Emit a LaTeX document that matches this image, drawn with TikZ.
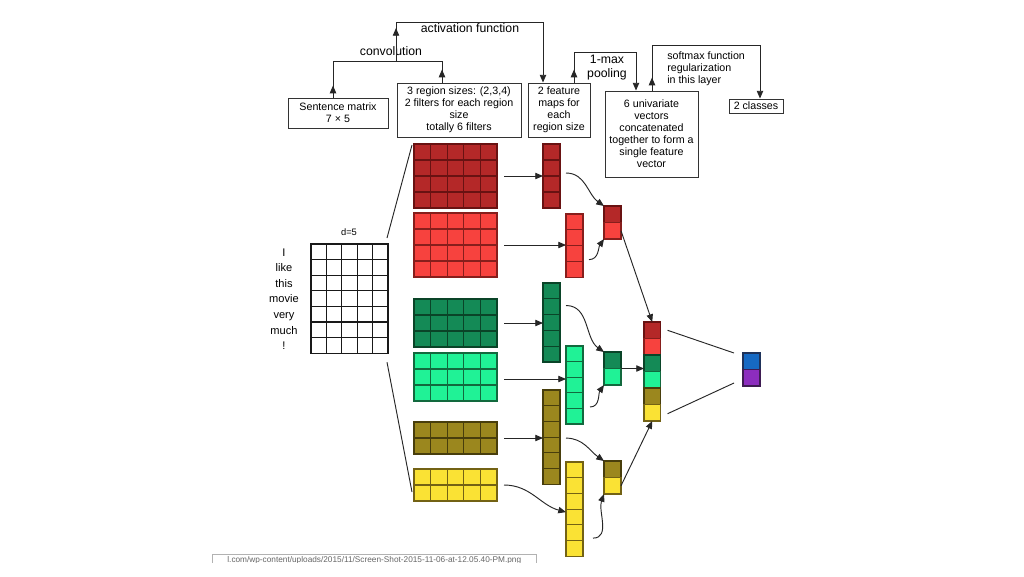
\documentclass[tikz,border=0pt]{standalone}
\usepackage{fontspec}
\setmainfont{Liberation Sans}
\usetikzlibrary{arrows.meta,calc}
\definecolor{dred}{RGB}{180,40,40}
\definecolor{dredl}{RGB}{105,18,18}
\definecolor{lred}{RGB}{247,66,62}
\definecolor{lredl}{RGB}{135,30,28}
\definecolor{dgrn}{RGB}{20,138,86}
\definecolor{dgrnl}{RGB}{10,68,40}
\definecolor{lgrn}{RGB}{32,242,150}
\definecolor{lgrnl}{RGB}{18,105,62}
\definecolor{oliv}{RGB}{155,135,30}
\definecolor{olivl}{RGB}{72,62,12}
\definecolor{yell}{RGB}{250,226,52}
\definecolor{yelll}{RGB}{115,98,20}
\definecolor{blu}{RGB}{22,105,195}
\definecolor{blul}{RGB}{30,50,90}
\definecolor{purp}{RGB}{140,45,190}
\definecolor{purpl}{RGB}{62,28,82}
\tikzset{
  arr/.style={-{Triangle[length=5.8pt,width=4.8pt]}, line width=0.7pt, draw=black!85},
  conn/.style={line width=0.7pt, draw=black!85},
  tbox/.style={draw=black!80, line width=0.7pt, align=center, font=\fontsize{8}{9}\selectfont, inner sep=0pt},
  lbl/.style={font=\fontsize{9.2}{10.5}\selectfont, inner sep=0pt},
}
% name, x, y, cols, rows, cell w, cell h, fill, line
\newcommand{\mygrid}[9]{%
  \node[draw=#9, fill=#8, line width=0.9pt, minimum width={#4*#6*0.75pt}, minimum height={#5*#7*0.75pt}, anchor=north west, inner sep=0pt, outer sep=0pt] (#1) at (#2,#3) {};
  \ifnum#4>1\relax
    \foreach \k in {2,...,#4} {\pgfmathsetmacro\myf{(\k-1)/#4}
      \draw[draw=#9, line width=0.9pt] ($(#1.north west)!\myf!(#1.north east)$) -- ($(#1.south west)!\myf!(#1.south east)$);}
  \fi
  \ifnum#5>1\relax
    \foreach \k in {2,...,#5} {\pgfmathsetmacro\myf{(\k-1)/#5}
      \draw[draw=#9, line width=0.9pt] ($(#1.north west)!\myf!(#1.south west)$) -- ($(#1.north east)!\myf!(#1.south east)$);}
  \fi
}
\begin{document}
\begin{tikzpicture}[x=0.75pt,y=-0.75pt]
\useasboundingbox (0,0) rectangle (1024,576);
\fill[white] (0,0) rectangle (1024,576);

% top boxes
\node[tbox, minimum width=75pt, minimum height=22.5pt] (sm) at (338,113) {Sentence matrix\\7 × 5};
\node[tbox, minimum width=93pt, minimum height=40.5pt] (rs) at (459,110) {3 region sizes: (2,3,4)\\2 filters for each region\\size\\totally 6 filters};
\node[tbox, minimum width=46.5pt, minimum height=40.5pt] (fm) at (559,110) {2 feature\\maps for\\each\\region size};
\node[tbox, minimum width=69.75pt, minimum height=64.5pt] (uv) at (651.5,134) {6 univariate\\vectors\\concatenated\\together to form a\\single feature\\vector};
\node[tbox, minimum width=40.5pt, minimum height=10.5pt] (cl) at (756,106) {2 classes};

% convolution bracket
\coordinate (cvL) at (333,61);
\coordinate (cvR) at (442,61);
\draw[conn] (sm.north -| cvL) -- (cvL) -- (cvR) -- (cvR |- rs.north);
\draw[arr] (sm.north -| cvL) -- ++(0,-12);
\draw[arr] (rs.north -| cvR) -- ++(0,-13);
\node[lbl] (lconv) at (391,51) {convolution};

% activation bracket
\coordinate (acL) at (396,61);
\coordinate (acT) at (396,22);
\coordinate (acR) at (543,22);
\draw[conn] (acL) -- (acT) -- (acR);
\draw[arr] (acL) -- ++(0,-33);
\draw[arr] (acR) -- (acR |- fm.north);
\node[lbl] (lact) at (470,28) {activation function};

% pooling bracket
\coordinate (plL) at (574,52);
\coordinate (plR) at (636,52);
\draw[conn] (fm.north -| plL) -- (plL) -- (plR);
\draw[arr] (fm.north -| plL) -- ++(0,-13);
\draw[arr] (plR) -- (plR |- uv.north);
\node[lbl, align=center] (lpool) at (607,67.5) {1-max\\pooling};

% softmax bracket
\coordinate (smL) at (652,45);
\coordinate (smR) at (760,45);
\draw[conn] (uv.north -| smL) -- (smL) -- (smR);
\draw[arr] (uv.north -| smL) -- ++(0,-13);
\draw[arr] (smR) -- (smR |- cl.north);
\node[font=\fontsize{8}{9.2}\selectfont, align=left, anchor=north west, inner sep=0pt] (lsoft) at (667,51) {softmax function\\regularization\\in this layer};

% sentence
\node[font=\fontsize{8.3}{11.7}\selectfont, align=center, inner sep=0pt] (words) at (284,299) {I\\like\\this\\movie\\very\\much\\!};
\node[font=\fontsize{7}{8}\selectfont, inner sep=0pt] (dlab) at (349,232) {d=5};
\mygrid{mat}{311}{244}{5}{7}{15.4}{15.6}{white}{black!90}

% filters
\mygrid{fdr}{414}{144}{5}{4}{16.6}{16}{dred}{dredl}
\mygrid{flr}{414}{213}{5}{4}{16.6}{16}{lred}{lredl}
\mygrid{fdg}{414}{299}{5}{3}{16.6}{16}{dgrn}{dgrnl}
\mygrid{flg}{414}{353}{5}{3}{16.6}{16}{lgrn}{lgrnl}
\mygrid{fol}{414}{422}{5}{2}{16.6}{16}{oliv}{olivl}
\mygrid{fye}{414}{469}{5}{2}{16.6}{16}{yell}{yelll}

% feature maps
\mygrid{mdr}{543}{144}{1}{4}{17}{16}{dred}{dredl}
\mygrid{mlr}{566}{214}{1}{4}{17}{15.8}{lred}{lredl}
\mygrid{mdg}{543}{283}{1}{5}{17}{15.8}{dgrn}{dgrnl}
\mygrid{mlg}{566}{346}{1}{5}{17}{15.6}{lgrn}{lgrnl}
\mygrid{mol}{543}{390}{1}{6}{17}{15.7}{oliv}{olivl}
\mygrid{mye}{566}{462}{1}{6}{17}{15.7}{yell}{yelll}

% pooled
\mygrid{pr1}{604}{206}{1}{1}{17}{16.5}{dred}{dredl}
\mygrid{pr2}{604}{222.5}{1}{1}{17}{16.5}{lred}{lredl}
\mygrid{pg1}{604}{352}{1}{1}{17}{16.5}{dgrn}{dgrnl}
\mygrid{pg2}{604}{368.5}{1}{1}{17}{16.5}{lgrn}{lgrnl}
\mygrid{po1}{604}{461}{1}{1}{17}{16.5}{oliv}{olivl}
\mygrid{po2}{604}{477.5}{1}{1}{17}{16.5}{yell}{yelll}

% concatenated
\mygrid{c1}{644}{322}{1}{1}{16.5}{16.5}{dred}{dredl}
\mygrid{c2}{644}{338.5}{1}{1}{16.5}{16.5}{lred}{lredl}
\mygrid{c3}{644}{355}{1}{1}{16.5}{16.5}{dgrn}{dgrnl}
\mygrid{c4}{644}{371.5}{1}{1}{16.5}{16.5}{lgrn}{lgrnl}
\mygrid{c5}{644}{388}{1}{1}{16.5}{16.5}{oliv}{olivl}
\mygrid{c6}{644}{404.5}{1}{1}{16.5}{16.5}{yell}{yelll}

% final
\mygrid{f1}{743}{353}{1}{1}{17}{16.5}{blu}{blul}
\mygrid{f2}{743}{369.5}{1}{1}{17}{16.5}{purp}{purpl}

% matrix to filters
\draw[conn] ($(mat.north east)+(-1,-6)$) -- ($(fdr.north west)+(-2,1)$);
\draw[conn] ($(mat.south east)+(-1,9)$) -- ($(fye.south west)+(-2,-9)$);

% filters to maps
\draw[arr] ($(fdr.east)+(7,0)$) -- (mdr.west);
\draw[arr] ($(flr.east)+(7,0)$) -- (flr.east -| mlr.west);
\draw[arr] ($(fdg.east)+(7,0)$) -- (fdg.east -| mdg.west);
\draw[arr] ($(flg.east)+(7,2)$) -- ($(flg.east -| mlg.west)+(0,2)$);
\draw[arr] ($(fol.east)+(7,0)$) -- (fol.east -| mol.west);
\draw[arr] ($(fye.east)+(7,0)$) to[out=0,in=165] ($(mye.west)+(0,3)$);

% maps to pooled
\draw[arr] ($(mdr.east)+(6,-3)$) to[out=0,in=145] (pr1.north west);
\draw[arr] ($(mlr.east)+(6,14)$) to[out=0,in=235] (pr2.south west);
\draw[arr] ($(mdg.east)+(6,-17)$) to[out=0,in=145] (pg1.north west);
\draw[arr] ($(mlg.east)+(7,22)$) to[out=0,in=235] (pg2.south west);
\draw[arr] ($(mol.east)+(6,1)$) to[out=0,in=145] (po1.north west);
\draw[arr] ($(mye.east)+(10,29)$) to[out=0,in=250] (po2.south west);

% pooled to concatenated
\draw[arr] (pr2.east) -- (c1.north);
\draw[arr] (pg1.south east) -- (pg1.south east -| c3.west);
\draw[arr] (po2.east) -- (c6.south);

% concatenated to final
\draw[conn] ($(c1.east)+(7,0)$) -- ($(f1.north west)+(-9,0)$);
\draw[conn] ($(c6.east)+(7,1)$) -- ($(f2.south west)+(-9,-3)$);

% clipped file-name strip
\begin{scope}
\clip (0,0) rectangle (1024,562);
\node[draw=black!30, fill=white, anchor=north west, inner sep=1.5pt, text=black!60, font=\fontsize{6.2}{7}\selectfont, minimum width=243pt, align=left] (url) at (212,554) {l.com/wp-content/uploads/2015/11/Screen-Shot-2015-11-06-at-12.05.40-PM.png};
\end{scope}
\end{tikzpicture}
\end{document}
